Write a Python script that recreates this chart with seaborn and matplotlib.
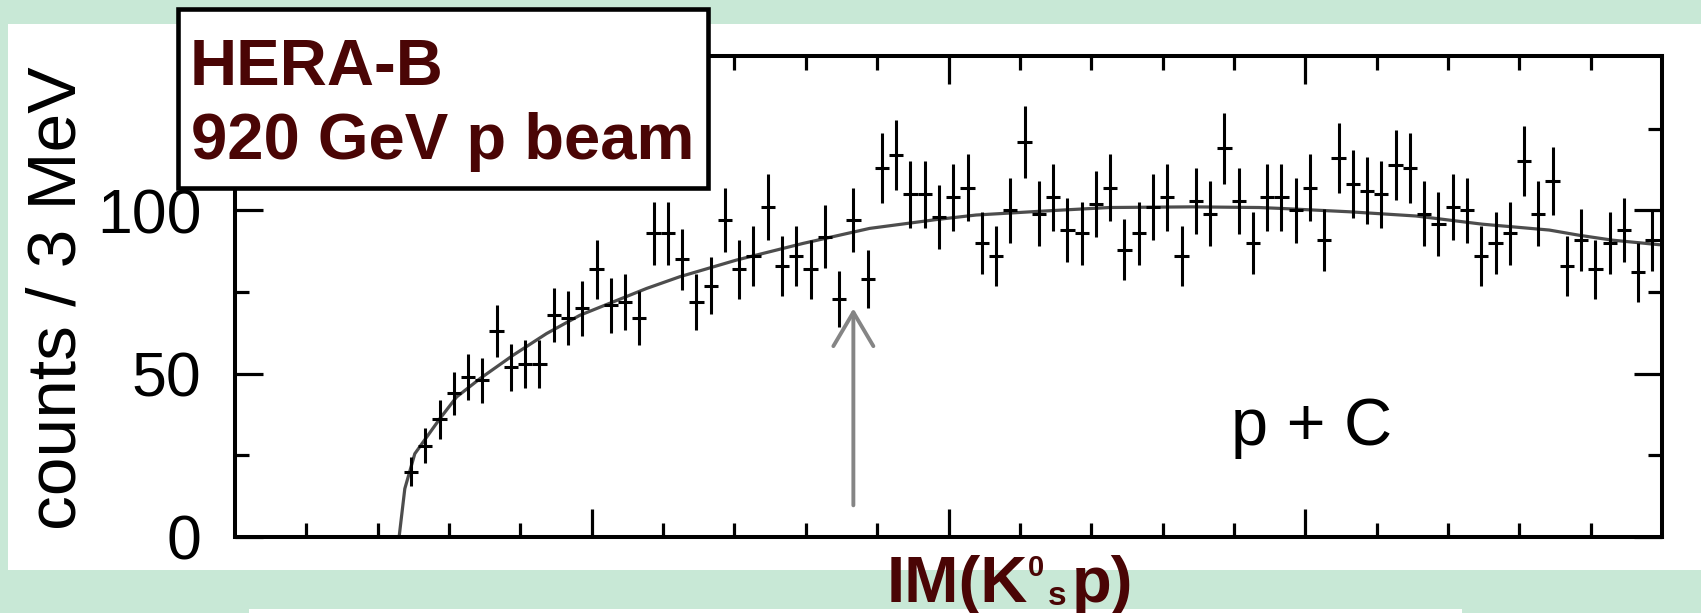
import numpy as np
import pandas as pd
import matplotlib
matplotlib.use("Agg")
import matplotlib.pyplot as plt
from matplotlib.patches import Rectangle
from matplotlib.ticker import FixedLocator
import seaborn as sns

# ---- K0s p invariant-mass spectrum (p + C), 3 MeV bins ----
bin_width = 0.003          # GeV
first_bin_center = 1.437   # GeV
counts = [20, 28, 36, 44, 49, 48, 63, 52, 53, 53,
          68, 67, 70, 82, 71, 72, 67, 93, 93, 85,
          72, 77, 97, 82, 86, 101, 83, 86, 82, 92,
          73, 97, 79, 113, 117, 105, 105, 98, 104, 107,
          90, 86, 100, 121, 99, 104, 94, 93, 102, 107,
          88, 93, 101, 104, 86, 103, 99, 119, 103, 90,
          104, 104, 100, 107, 91, 116, 108, 106, 105, 114,
          113, 99, 96, 101, 100, 86, 90, 93, 115, 99,
          109, 83, 91, 82, 90, 94, 81, 91]

# background fit curve
fit_mass = [1.4345, 1.4357, 1.4368, 1.4378, 1.4403, 1.4431, 1.4466, 1.4515,
            1.4585, 1.4655, 1.4725, 1.4795, 1.4865, 1.4935, 1.5054, 1.5194,
            1.5334, 1.5474, 1.5558, 1.5698, 1.5838, 1.6013, 1.6153, 1.6202,
            1.6342, 1.6483, 1.6622, 1.6763, 1.6826, 1.6896, 1.6995]
fit_counts = [0.0, 14.8, 20.4, 25.5, 30.6, 36.3, 42.9, 48.5,
              55.7, 62.3, 67.9, 72.0, 76.1, 79.7, 84.8, 89.9,
              94.5, 97.2, 98.6, 99.8, 100.9, 101.1, 100.9, 100.6,
              99.6, 98.3, 95.8, 94.0, 92.4, 90.9, 89.5]

# expected Theta+ position
theta_mass = 1.530
arrow_tip, arrow_tail = 70.0, 9.7

x_range = (1.40, 1.70)
y_range = (0, 147.3)
x_major_ticks = [1.475, 1.550, 1.625]
x_minor_ticks = [1.415, 1.430, 1.445, 1.460, 1.490, 1.505, 1.520, 1.535,
                 1.565, 1.580, 1.595, 1.610, 1.640, 1.655, 1.670, 1.685]
y_major_ticks = [0, 50, 100]
y_tick_labels = ["0", "50", "100"]
y_minor_ticks = [25, 75, 125]

maroon = "#4a0505"
mint = "#c8e8d6"

sns.set_theme(style="ticks")
plt.rcParams["font.family"] = ["Liberation Sans", "DejaVu Sans"]

W, H = 1701, 613
fig = plt.figure(figsize=(W / 100, H / 100), dpi=100)
fig.patch.set_facecolor(mint)

# white slide panels
fig.add_artist(Rectangle((7.6 / W, (H - 570) / H), (W - 7.6) / W, (570 - 24) / H,
                         transform=fig.transFigure, facecolor="white",
                         edgecolor="none", zorder=-2))
fig.add_artist(Rectangle((249 / W, 0), (1462 - 249) / W, (H - 609) / H,
                         transform=fig.transFigure, facecolor="white",
                         edgecolor="none", zorder=-2))

ax = fig.add_axes([235 / W, 76 / H, 1427 / W, 481 / H])
ax.set_facecolor("white")

mass = first_bin_center + bin_width * np.arange(len(counts))
df = pd.DataFrame({"mass": mass, "counts": counts})
fit = pd.DataFrame({"mass": fit_mass, "counts": fit_counts})

sns.lineplot(data=fit, x="mass", y="counts", ax=ax, color="#4d4d4d",
             lw=2.3, zorder=2)
ax.errorbar(df["mass"], df["counts"], yerr=np.sqrt(df["counts"]),
            xerr=bin_width / 2, fmt="none", ecolor="black",
            elinewidth=2.2, capsize=0, zorder=3)

ax.annotate("", xy=(theta_mass, arrow_tip), xytext=(theta_mass, arrow_tail),
            arrowprops=dict(arrowstyle="->,head_length=1.22,head_width=0.72",
                            mutation_scale=20, color="#858585", lw=2.8,
                            shrinkA=0, shrinkB=0), zorder=2)

ax.set_xlim(*x_range)
ax.set_ylim(*y_range)
ax.set_xlabel("")
ax.set_ylabel("")

ax.xaxis.set_major_locator(FixedLocator(x_major_ticks))
ax.xaxis.set_minor_locator(FixedLocator(x_minor_ticks))
ax.set_yticks(y_major_ticks)
ax.set_yticklabels(y_tick_labels)
ax.yaxis.set_minor_locator(FixedLocator(y_minor_ticks))

ax.tick_params(which="both", direction="in", top=True, right=True,
               width=2.3, color="black", labelbottom=False)
ax.tick_params(which="major", length=20)
ax.tick_params(which="minor", length=10)
ax.tick_params(axis="y", labelsize=45, pad=24, labelcolor="black")
ax.grid(False)
for s in ax.spines.values():
    s.set_visible(True)
    s.set_linewidth(2.9)
    s.set_color("black")

ax.text(0.698, 0.192, "p + C", transform=ax.transAxes, fontsize=48,
        va="baseline", ha="left", color="black")

# y axis title
fig.text(58 / W, (H - 298) / H, "counts / 3 MeV", rotation=90, fontsize=50,
         ha="center", va="center", color="black")

# x axis title: IM(K0s p)
fig.text(887 / W, (H - 601.7) / H, "IM(K", fontsize=47, weight="bold",
         color=maroon, va="baseline", ha="left")
fig.text(1028 / W, (H - 576) / H, "0", fontsize=21, weight="bold",
         color=maroon, va="baseline", ha="left")
fig.text(1048 / W, (H - 605) / H, "s", fontsize=24, weight="bold",
         color=maroon, va="baseline", ha="left")
fig.text(1072 / W, (H - 601.7) / H, "p)", fontsize=47, weight="bold",
         color=maroon, va="baseline", ha="left")

# experiment label box
fig.add_artist(Rectangle((178.3 / W, (H - 187.8) / H), (707.7 - 178.3) / W,
                         (187.8 - 8.8) / H, transform=fig.transFigure,
                         facecolor="white", edgecolor="black", lw=3.3,
                         zorder=5))
fig.text(190 / W, (H - 85) / H, "HERA-B", fontsize=47, weight="bold",
         color=maroon, va="baseline", ha="left", zorder=6)
fig.text(190.5 / W, (H - 159.5) / H, "920 GeV p beam", fontsize=47,
         weight="bold", color=maroon, va="baseline", ha="left", zorder=6)

fig.savefig("out.png", dpi=100, facecolor=fig.get_facecolor())
